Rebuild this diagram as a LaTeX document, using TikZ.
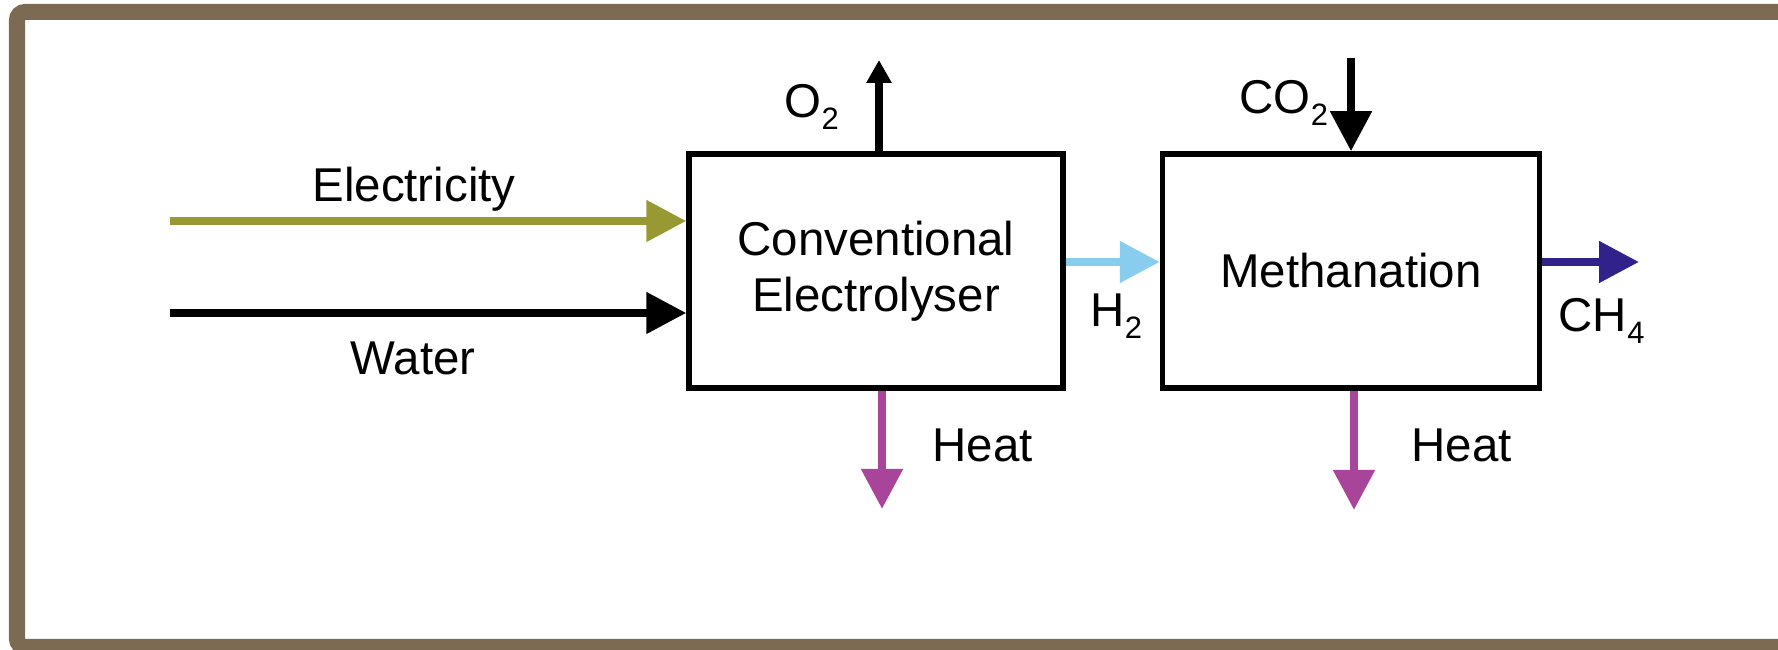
\documentclass[tikz,border=0pt]{standalone}
\usepackage{fontspec}
\setmainfont{Liberation Sans}
\usetikzlibrary{arrows.meta}
\definecolor{framebrown}{RGB}{125,106,82}
\definecolor{elecolive}{RGB}{153,153,51}
\definecolor{hydroblue}{RGB}{136,204,238}
\definecolor{methindigo}{RGB}{48,34,138}
\definecolor{heatpurple}{RGB}{168,68,154}
\newcommand\chemsub[1]{\raisebox{-.25em}{\fontsize{8.8pt}{8.8pt}\selectfont #1}}
\begin{document}
\begin{tikzpicture}[
    x=1cm,y=1cm,font=\fontsize{13.5pt}{15.9pt}\selectfont,
    unit/.style={draw=black,line width=.055cm,inner sep=0pt,align=center,
      minimum height=2.34cm},
    flow/.style={line width=.08cm,-{Triangle[length=.4cm,width=.4cm]}},
    small flow/.style={line width=.08cm,-{Triangle[length=.23cm,width=.24cm]}},
    label/.style={inner sep=0pt,anchor=base west}
  ]
    \useasboundingbox (0,0) rectangle (17.78,6.50);

    % Brown frame, its right side runs off the page.
    \draw[framebrown,line width=.16cm,rounded corners=.08cm]
      (.17,.03) rectangle (17.95,6.38);

    % The two process units.
    \node[unit,minimum width=3.74cm] (electrolyser) at (8.76,3.79)
      {Conventional\\Electrolyser};
    \node[unit,minimum width=3.77cm] (methanation) at (13.51,3.79)
      {Methanation};

    % Free ends of the in- and outgoing streams.
    \coordinate (elec in)  at (1.70,4.29);
    \coordinate (water in) at (1.70,3.37);
    \coordinate (o2 out)   at (8.79,5.90);
    \coordinate (co2 in)   at (13.51,5.92);
    \coordinate (ch4 out)  at (16.39,3.88);
    \coordinate (heat1 out) at (8.82,1.41);
    \coordinate (heat2 out) at (13.54,1.40);

    % Inputs of the electrolyser.
    \draw[flow,elecolive] (elec in) -- (elec in -| electrolyser.west);
    \draw[flow,black] (water in) -- (water in -| electrolyser.west);
    \draw[small flow,black] (o2 out |- electrolyser.north) -- (o2 out);

    % Hydrogen to the methanation unit.
    \draw[flow,hydroblue] ([yshift=.09cm]electrolyser.east)
      -- ([yshift=.09cm]methanation.west);
    \draw[flow,black] (co2 in) -- (co2 in |- methanation.north);
    \draw[flow,methindigo] (ch4 out -| methanation.east) -- (ch4 out);

    % Heat released by both units.
    \draw[flow,heatpurple] (heat1 out |- electrolyser.south) -- (heat1 out);
    \draw[flow,heatpurple] (heat2 out |- methanation.south) -- (heat2 out);

    % Stream labels.
    \node[inner sep=0pt,anchor=base] (elec label) at (4.14,4.48) {Electricity};
    \node[inner sep=0pt,anchor=base] (water label) at (4.13,2.75) {Water};
    \node[label] (o2 label) at (7.84,5.32) {O\chemsub{2}};
    \node[label] (co2 label) at (12.39,5.36) {CO\chemsub{2}};
    \node[label] (h2 label) at (10.90,3.23) {H\chemsub{2}};
    \node[label] (ch4 label) at (15.58,3.18) {CH\chemsub{4}};
    \node[label] (heat1 label) at (9.32,1.88) {Heat};
    \node[label] (heat2 label) at (14.11,1.88) {Heat};
  \end{tikzpicture}
\end{document}
